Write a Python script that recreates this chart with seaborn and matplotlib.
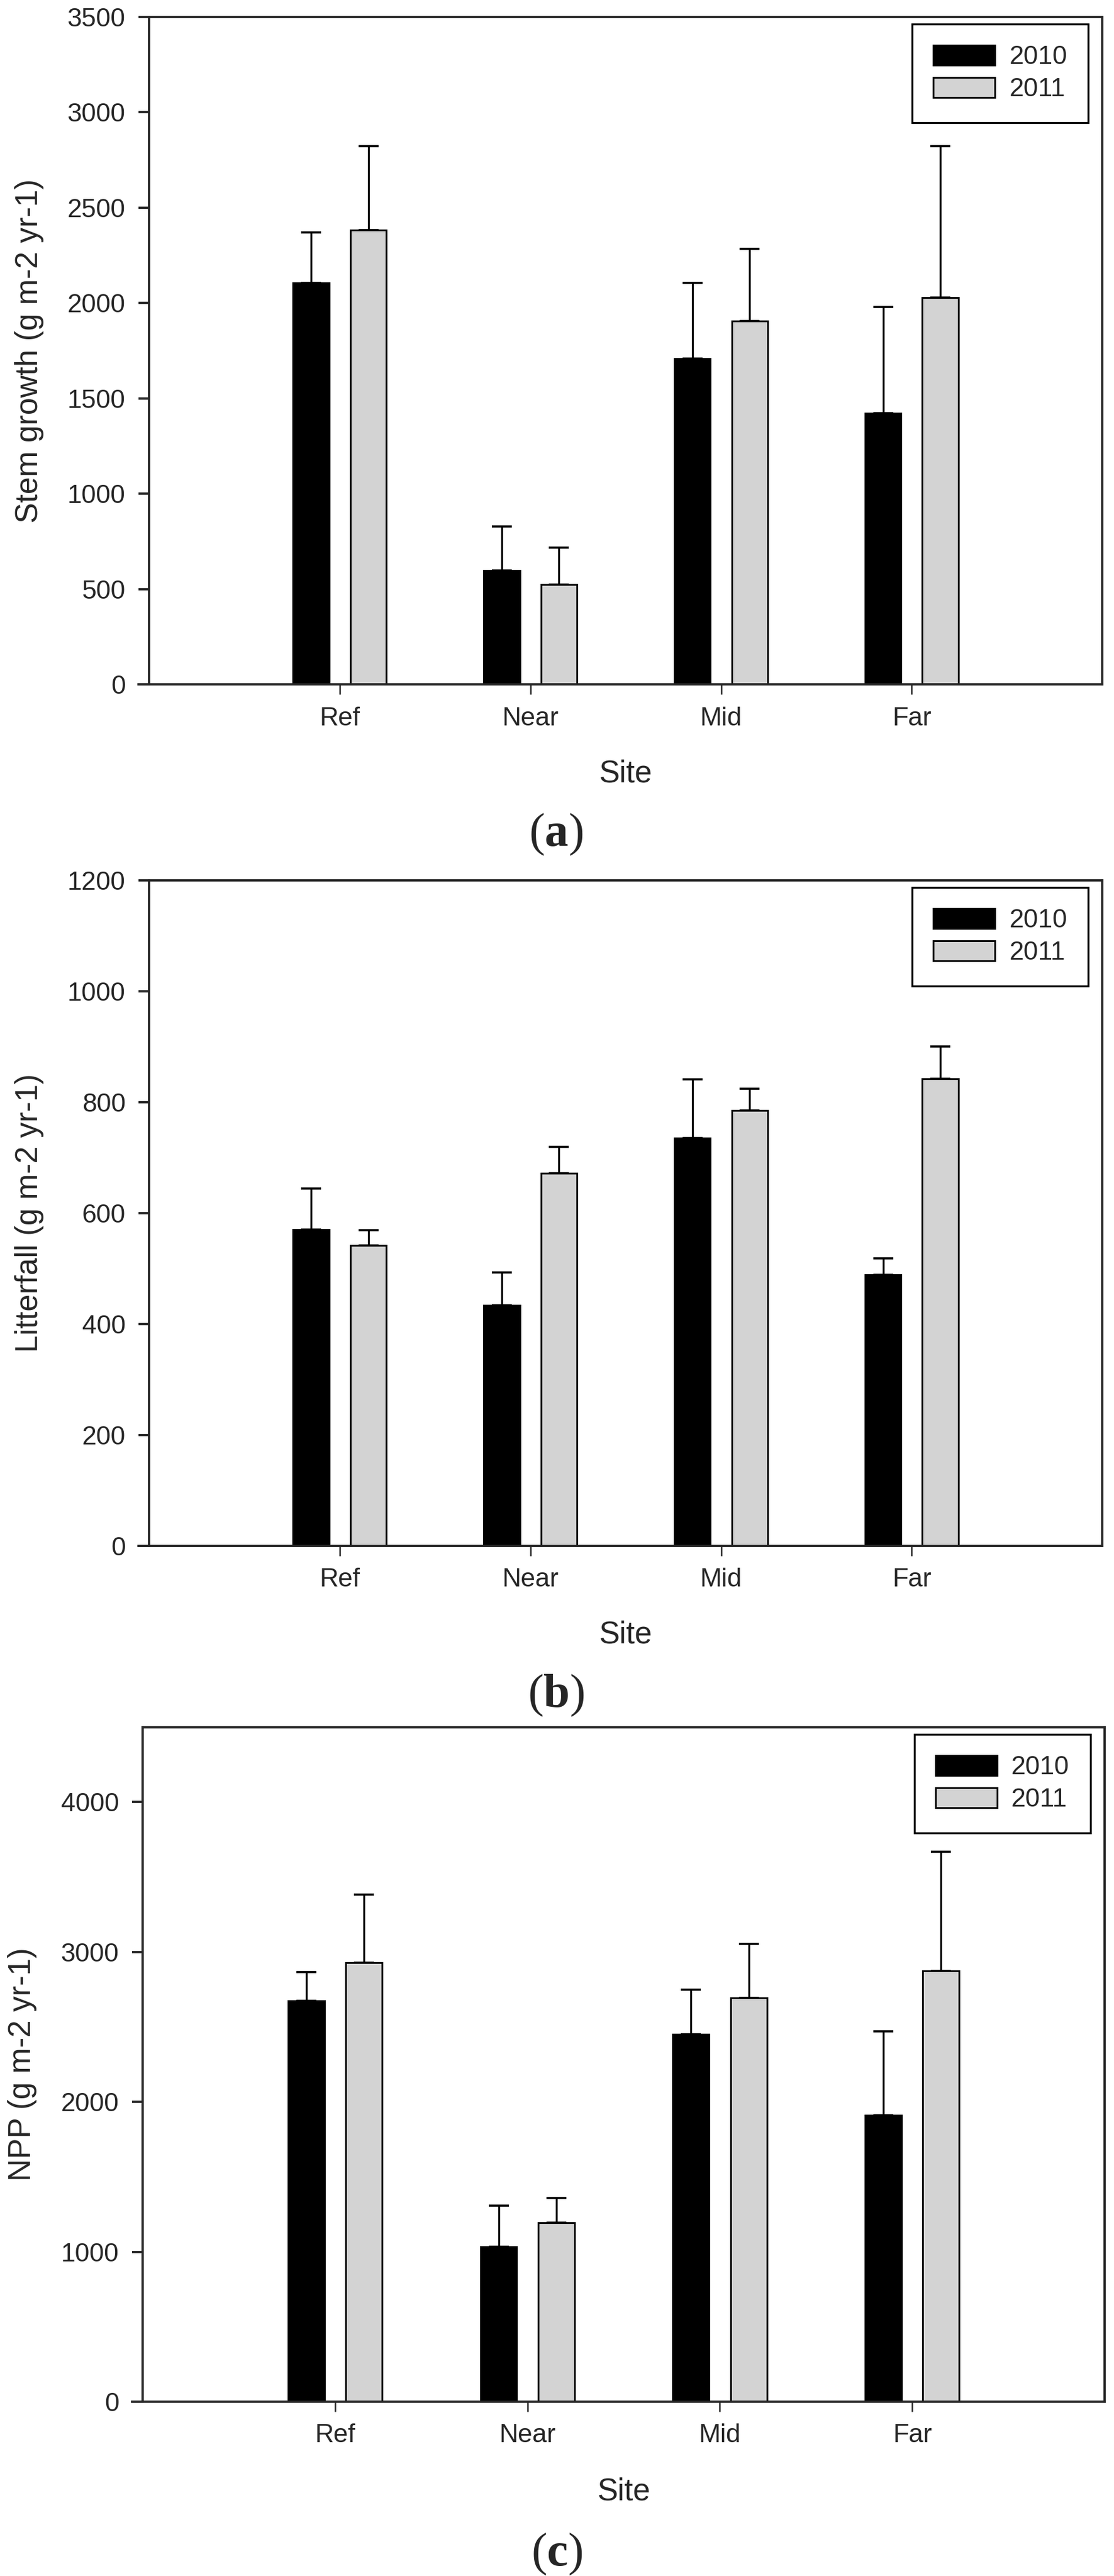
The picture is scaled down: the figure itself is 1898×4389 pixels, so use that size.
import matplotlib
matplotlib.use("Agg")
import matplotlib.pyplot as plt
import seaborn as sns
import pandas as pd
import numpy as np

# data (means and upper standard errors)
sites = ["Ref", "Near", "Mid", "Far"]
years = ["2010", "2011"]

stem_2010 = [2105, 597, 1710, 1422]
stem_2011 = [2383, 524, 1907, 2029]
stem_se_2010 = [266, 232, 396, 559]
stem_se_2011 = [439, 194, 376, 793]

litter_2010 = [570, 434, 735, 489]
litter_2011 = [542, 672, 785, 842]
litter_se_2010 = [74, 59, 106, 29]
litter_se_2011 = [27, 47, 39, 58]

npp_2010 = [2674, 1032, 2450, 1910]
npp_2011 = [2927, 1195, 2692, 2875]
npp_se_2010 = [194, 275, 298, 559]
npp_se_2011 = [458, 164, 362, 793]

sns.set_style("ticks")
plt.rcParams["font.family"] = ["Liberation Sans", "DejaVu Sans"]
plt.rcParams["mathtext.fontset"] = "custom"
plt.rcParams["mathtext.rm"] = "Liberation Serif"
plt.rcParams["mathtext.bf"] = "Liberation Serif:bold"

palette = {"2010": "black", "2011": "#d3d3d3"}


def draw_panel(ax, vals, errs, ylabel, ymax, ystep, ytop_tick):
    df = pd.DataFrame({
        "site": sites * 2,
        "year": [years[0]] * 4 + [years[1]] * 4,
        "value": vals[0] + vals[1],
    })
    sns.barplot(data=df, x="site", y="value", hue="year", order=sites,
                hue_order=years, palette=palette, width=0.6, gap=0.37,
                errorbar=None, edgecolor="black", linewidth=2.2, ax=ax)

    # one-sided (upper) error bars
    for cont, v, e in zip(ax.containers, vals, errs):
        xs = [p.get_x() + p.get_width() / 2 for p in cont]
        ax.errorbar(xs, v, yerr=[np.zeros(len(e)), e], fmt="none",
                    ecolor="black", elinewidth=2.4, capsize=12.5,
                    capthick=2.6, zorder=1)

    ax.set_xlim(-1, 4)
    ax.set_ylim(0, ymax)
    ax.set_yticks(np.arange(0, ytop_tick + 1, ystep))
    ax.set_xlabel("Site", fontsize=38)
    ax.set_ylabel(ylabel, fontsize=38)
    ax.xaxis.set_label_coords(0.5, -0.112)
    ax.yaxis.set_label_coords(-0.110, 0.5)
    ax.tick_params(axis="y", labelsize=32, length=13, width=2.8, pad=16)
    ax.tick_params(axis="x", labelsize=32, length=12, width=1.8, pad=15)
    for s in ax.spines.values():
        s.set_linewidth(2.8)
        s.set_visible(True)
    # bottom axis line runs a little past the left spine, as in the original
    ax.spines["bottom"].set_bounds(-1.055, 4)

    sns.move_legend(ax, "upper right", bbox_to_anchor=(0.985, 0.989),
                    borderaxespad=0, title=None, frameon=True, fancybox=False,
                    fontsize=32, handlelength=2.36, handleheight=0.8,
                    handletextpad=0.55, labelspacing=0.3, borderpad=0.8,
                    framealpha=1, edgecolor="black")
    ax.get_legend().get_frame().set_linewidth(2.4)


fig = plt.figure(figsize=(18.99, 43.89), dpi=100)
ax_a = fig.add_axes([0.1338, 0.7343, 0.8552, 0.2591])
ax_b = fig.add_axes([0.1338, 0.3999, 0.8552, 0.2584])
ax_c = fig.add_axes([0.1280, 0.0677, 0.8631, 0.2618])

draw_panel(ax_a, [stem_2010, stem_2011], [stem_se_2010, stem_se_2011],
           "Stem growth (g m-2 yr-1)", 3500, 500, 3500)
draw_panel(ax_b, [litter_2010, litter_2011], [litter_se_2010, litter_se_2011],
           "Litterfall (g m-2 yr-1)", 1200, 200, 1200)
draw_panel(ax_c, [npp_2010, npp_2011], [npp_se_2010, npp_se_2011],
           "NPP (g m-2 yr-1)", 4500, 1000, 4000)

for lab, y, x in [("a", 0.676, 0.4987), ("b", 0.3417, 0.4987), ("c", 0.0085, 0.4997)]:
    fig.text(x, y, "(" + r"$\mathbf{" + lab + "}$" + ")", ha="center",
             va="center", fontsize=58, family="Liberation Serif")

fig.savefig("out.png", dpi=100)
